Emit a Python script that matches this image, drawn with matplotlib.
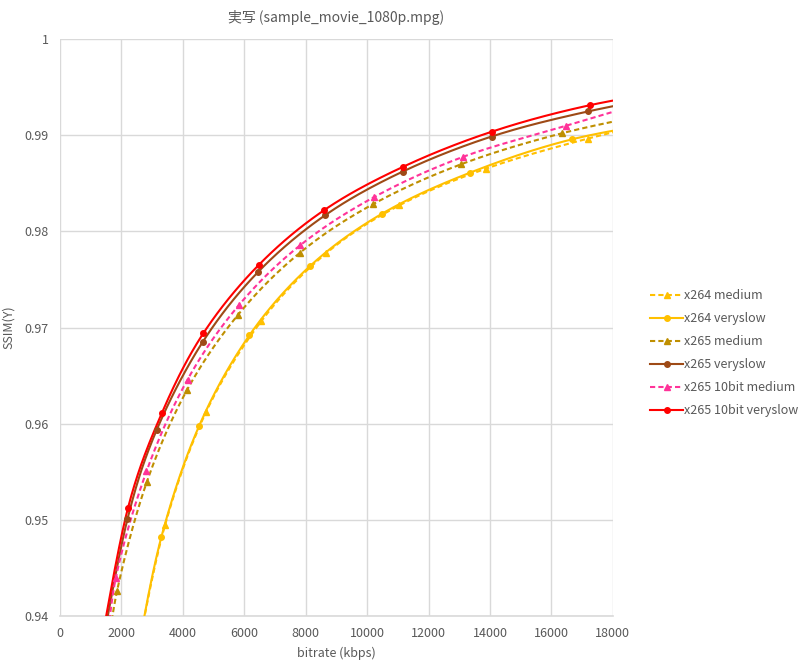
import matplotlib
matplotlib.use("Agg")
import matplotlib.pyplot as plt
import numpy as np

plt.rcParams['font.family'] = ['Noto Sans CJK JP', 'DejaVu Sans']

# bitrate (kbps) / SSIM(Y); first and last point of each
# series lie just outside the plotted area (the curves run off the edges)
x264_medium_x = [2500, 3424, 4750, 6554, 8663, 11054, 13880, 17195, 21000]
x264_medium_y = [0.9360, 0.94951, 0.96118, 0.97066, 0.97771, 0.98271, 0.98653, 0.98965, 0.9925]
x264_veryslow_x = [2450, 3304, 4533, 6163, 8141, 10489, 13359, 16685, 20500]
x264_veryslow_y = [0.9350, 0.94826, 0.95979, 0.96917, 0.97639, 0.98184, 0.98611, 0.98958, 0.9918]
x265_medium_x = [1450, 1859, 2826, 4131, 5804, 7816, 10184, 13065, 16359, 20000]
x265_medium_y = [0.9335, 0.94264, 0.95393, 0.96347, 0.97135, 0.97778, 0.98281, 0.98698, 0.99021, 0.9927]
x265_veryslow_x = [1350, 2196, 3152, 4641, 6446, 8631, 11163, 14054, 17195, 21000]
x265_veryslow_y = [0.9365, 0.95007, 0.95938, 0.96847, 0.97576, 0.98167, 0.98622, 0.98986, 0.99247, 0.9948]
x265_10_medium_x = [1450, 1815, 2815, 4152, 5815, 7816, 10239, 13119, 16467, 20000]
x265_10_medium_y = [0.9340, 0.94393, 0.95503, 0.96458, 0.97229, 0.97854, 0.98358, 0.98774, 0.99097, 0.9943]
x265_10_veryslow_x = [1300, 2217, 3316, 4663, 6467, 8609, 11163, 14076, 17272, 21000]
x265_10_veryslow_y = [0.9365, 0.95128, 0.96110, 0.96938, 0.97649, 0.98222, 0.98670, 0.99038, 0.99313, 0.9952]

series = [
    ("x264 medium", x264_medium_x, x264_medium_y, "#FFC000", "--", "^", 5),
    ("x264 veryslow", x264_veryslow_x, x264_veryslow_y, "#FFC000", "-", "o", 4),
    ("x265 medium", x265_medium_x, x265_medium_y, "#BF8F00", "--", "^", 5),
    ("x265 veryslow", x265_veryslow_x, x265_veryslow_y, "#9E4A16", "-", "o", 4),
    ("x265 10bit medium", x265_10_medium_x, x265_10_medium_y, "#FF3399", "--", "^", 5),
    ("x265 10bit veryslow", x265_10_veryslow_x, x265_10_veryslow_y, "#FF0000", "-", "o", 4),
]


def smooth(xs, ys, n=30):
    # Catmull-Rom style smoothing, like Excel's smoothed line
    p = np.column_stack([xs, ys]).astype(float)
    p = np.vstack([p[0], p, p[-1]])
    out = []
    t = np.linspace(0, 1, n)[:, None]
    for i in range(1, len(p) - 2):
        p0, p1, p2, p3 = p[i - 1], p[i], p[i + 1], p[i + 2]
        c1 = p1 + (p2 - p0) / 6
        c2 = p2 - (p3 - p1) / 6
        seg = ((1 - t) ** 3) * p1 + 3 * ((1 - t) ** 2) * t * c1 + 3 * (1 - t) * t ** 2 * c2 + t ** 3 * p2
        out.append(seg)
    out = np.vstack(out)
    return out[:, 0], out[:, 1]


grey = "#595959"
fig = plt.figure(figsize=(8, 6.69), dpi=100)
ax = fig.add_axes([0.075, 0.0792, 0.691, 0.8625])

for label, xs, ys, color, ls, mk, ms in series:
    dash = (2.5, 1.5) if ls == "--" else (None, None)
    sx, sy = smooth(xs, ys)
    ln, = ax.plot(sx, sy, color=color, linestyle=ls, linewidth=1.5, zorder=3)
    ax.plot(xs, ys, color=color, linestyle="none", marker=mk, markersize=ms, zorder=4)
    h, = ax.plot([], [], color=color, linestyle=ls, linewidth=1.5, marker=mk, markersize=ms, label=label)
    if ls == "--":
        ln.set_dashes(dash)
        h.set_dashes(dash)

ax.set_xlim(0, 18000)
ax.set_ylim(0.94, 1.0)
ax.set_xticks(np.arange(0, 18001, 2000))
ax.set_yticks([0.94, 0.95, 0.96, 0.97, 0.98, 0.99, 1.0])
ax.set_yticklabels(["0.94", "0.95", "0.96", "0.97", "0.98", "0.99", "1"])
ax.grid(True, color="#D9D9D9", linewidth=1)
ax.set_axisbelow(True)
for s in ["top", "right", "left"]:
    ax.spines[s].set_visible(False)
ax.spines["bottom"].set_color("#D9D9D9")
ax.spines["bottom"].set_linewidth(1.2)
ax.tick_params(length=0, colors=grey, labelsize=9, pad=8)

ax.set_title("実写 (sample_movie_1080p.mpg)", color=grey, fontsize=10, pad=12)
ax.set_xlabel("bitrate (kbps)", color=grey, fontsize=9, labelpad=5)
ax.set_ylabel("SSIM(Y)", color=grey, fontsize=9, labelpad=7)

leg = fig.legend(loc="center left", bbox_to_anchor=(0.799, 0.472), frameon=False,
                 fontsize=9, handlelength=2.6, handletextpad=0.1, labelspacing=0.8,
                 labelcolor=grey)

fig.savefig("out.png", dpi=100)
